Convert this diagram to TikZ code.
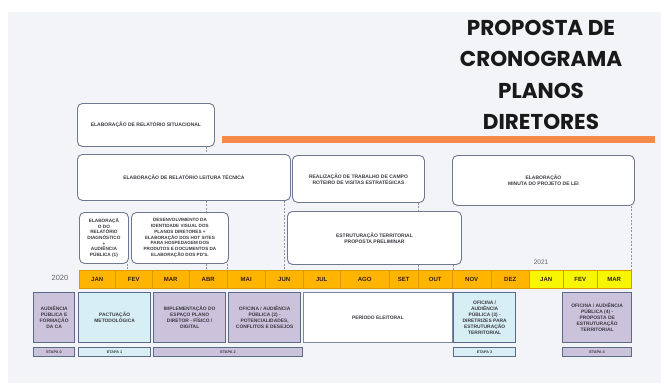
\documentclass[tikz,border=0pt]{standalone}
\usepackage{fontspec}
\setmainfont{Liberation Sans}
\newfontfamily\titulofont{Poppins}
\usetikzlibrary{positioning}

\definecolor{fundo}{HTML}{F3F4F7}
\definecolor{bordacaixa}{HTML}{6E7890}
\definecolor{laranja}{HTML}{FFB400}
\definecolor{amarelo}{HTML}{F7F500}
\definecolor{linhames}{HTML}{D99A00}
\definecolor{lilas}{HTML}{CBC3DC}
\definecolor{azulclaro}{HTML}{D8EEF5}
\definecolor{bordaetapa}{HTML}{5B6A88}
\definecolor{faixa}{HTML}{F78A48}
\definecolor{tracejado}{HTML}{8C94A4}
\definecolor{textocaixa}{HTML}{3A3A40}

\tikzset{
  caixa/.style={draw=bordacaixa, fill=white, rounded corners=5pt, line width=0.9pt,
    anchor=north west, align=center, inner sep=1pt, text=textocaixa,
    font=\fontsize{5}{6}\selectfont\bfseries},
  atividade/.style={draw=bordaetapa, fill=lilas, line width=1.3pt, anchor=north west,
    align=center, inner sep=1pt, minimum height=50pt, text=textocaixa,
    font=\fontsize{4.9}{6}\selectfont\bfseries},
  etapa/.style={draw=bordaetapa, fill=lilas, line width=1.1pt, anchor=north west,
    inner sep=0pt, minimum height=9pt, text=textocaixa,
    font=\fontsize{3.8}{4}\selectfont\bfseries},
  mes/.style={draw=linhames, line width=0.4pt, anchor=north west, inner sep=0pt,
    minimum height=18pt, text=black!75!brown, font=\fontsize{6}{7}\selectfont\bfseries},
  ano/.style={text=black!60, font=\fontsize{7}{8}\selectfont},
  titulo/.style={align=center, text=black!90, font=\titulofont\bfseries\fontsize{21.5}{31.5}\selectfont},
  marca/.style={draw=tracejado, line width=0.8pt, dash pattern=on 2pt off 1.5pt}
}

\begin{document}
\begin{tikzpicture}[x=1pt,y=-1pt]
  \useasboundingbox (0,0) rectangle (661,383);
  \fill[fundo] (8,12) rectangle (661,383);

  % titulo
  \node[titulo] (titulo) at (541,75) {PROPOSTA DE\\CRONOGRAMA\\PLANOS\\DIRETORES};
  \fill[faixa] (222,136) rectangle (655,143);

  % caixas superiores
  \node[caixa, minimum width=137pt, minimum height=43pt] (situacional) at (77,103)
    {ELABORAÇÃO DE RELATÓRIO SITUACIONAL};
  \node[caixa, minimum width=213pt, minimum height=46pt] (leitura) at (77,154)
    {ELABORAÇÃO DE RELATÓRIO LEITURA TÉCNICA};
  \node[caixa, minimum width=132pt, minimum height=47pt] (campo) at (292,155)
    {REALIZAÇÃO DE TRABALHO DE CAMPO\\ROTEIRO DE VISITAS ESTRATÉGICAS};
  \node[caixa, minimum width=182pt, minimum height=50pt] (minuta) at (452,155)
    {ELABORAÇÃO\\MINUTA DO PROJETO DE LEI};
  \node[caixa, minimum width=49pt, minimum height=51pt, font=\fontsize{4.7}{5.6}\selectfont\bfseries] (diagnostico) at (79,212)
    {ELABORAÇÃ\\O DO\\RELATÓRIO\\DIAGNÓSTICO\\+\\AUDIÊNCIA\\PÚBLICA (1)};
  \node[caixa, minimum width=97pt, minimum height=51pt, font=\fontsize{4.6}{5.7}\selectfont\bfseries] (identidade) at (131,212)
    {DESENVOLVIMENTO DA\\IDENTIDADE VISUAL DOS\\PLANOS DIRETORES +\\ELABORAÇÃO DOS HOT SITES\\PARA HOSPEDAGEM DOS\\PRODUTOS E DOCUMENTOS DA\\ELABORAÇÃO DOS PD'S.};
  \node[caixa, minimum width=174pt, minimum height=53pt] (estruturacao) at (287,211)
    {ESTRUTURAÇÃO TERRITORIAL\\PROPOSTA PRELIMINAR};

  % meses
  \foreach \a/\b/\m/\cor [count=\i] in {79/115/JAN/laranja, 115/152/FEV/laranja,
      152/189/MAR/laranja, 189/227/ABR/laranja, 227/265/MAI/laranja, 265/303/JUN/laranja,
      303/340/JUL/laranja, 340/389/AGO/laranja, 389/418/SET/laranja, 418/452/OUT/laranja,
      452/491/NOV/laranja, 491/529/DEZ/laranja, 529/563/JAN/amarelo, 563/597/FEV/amarelo,
      597/631/MAR/amarelo}{
    \pgfmathsetmacro\w{\b-\a}
    \node[mes, fill=\cor, minimum width=\w pt] (mes\i) at (\a,270) {\m};
  }
  \node[ano, font=\fontsize{7.5}{8}\selectfont] (ano2020) at (60,278) {2020};
  \node[ano, font=\fontsize{6.5}{7}\selectfont] (ano2021) at (541,262) {2021};

  % marcas tracejadas
  \draw[marca] (206,0 |- situacional.south) -- (206,0 |- leitura.north);
  \draw[marca] (206,0 |- leitura.south) -- (206,0 |- identidade.north);
  \draw[marca] (206,0 |- identidade.south) -- (206,0 |- mes4.north);
  \draw[marca] (227,0 |- identidade.south) -- (227,0 |- mes5.north);
  \draw[marca] (127,0 |- diagnostico.south) -- (127,0 |- mes2.north);
  \draw[marca] (284,0 |- leitura.south) -- (284,0 |- mes6.north);
  \draw[marca] (418,0 |- campo.south) -- (418,0 |- estruturacao.north);
  \draw[marca] (418,0 |- estruturacao.south) -- (418,0 |- mes10.north);
  \draw[marca] (453,0 |- estruturacao.south) -- (453,0 |- mes11.north);
  \draw[marca] (631,0 |- minuta.south) -- (631,0 |- mes15.north);

  % atividades
  \node[atividade, minimum width=41pt] (audiencia) at (33,292)
    {AUDIÊNCIA\\PÚBLICA E\\FORMAÇÃO\\DA CA};
  \node[atividade, minimum width=72pt, fill=azulclaro] (pactuacao) at (78,292)
    {PACTUAÇÃO\\METODOLÓGICA};
  \node[atividade, minimum width=72pt] (espaco) at (153,292)
    {IMPLEMENTAÇÃO DO\\ESPAÇO PLANO\\DIRETOR - FÍSICO /\\DIGITAL};
  \node[atividade, minimum width=72pt] (oficina2) at (228,292)
    {OFICINA / AUDIÊNCIA\\PÚBLICA (2) -\\POTENCIALIDADES,\\CONFLITOS E DESEJOS};
  \node[atividade, minimum width=149pt, fill=white, draw=bordaetapa!80, line width=0.9pt] (eleitoral) at (303,292)
    {PERÍODO ELEITORAL};
  \node[atividade, minimum width=62pt, fill=azulclaro] (oficina3) at (453,292)
    {OFICINA /\\AUDIÊNCIA\\PÚBLICA (3) -\\DIRETRIZES PARA\\ESTRUTURAÇÃO\\TERRITORIAL};
  \node[atividade, minimum width=69pt] (oficina4) at (562,292)
    {OFICINA / AUDIÊNCIA\\PÚBLICA (4) -\\PROPOSTA DE\\ESTRUTURAÇÃO\\TERRITORIAL};

  % etapas
  \node[etapa, minimum width=41pt] (etapa0) at ([yshift=-4pt]audiencia.south west) {ETAPA 0};
  \node[etapa, minimum width=72pt, fill=azulclaro] (etapa1) at ([yshift=-4pt]pactuacao.south west) {ETAPA 1};
  \node[etapa, minimum width=149pt] (etapa2) at ([yshift=-4pt]espaco.south west) {ETAPA 2};
  \node[etapa, minimum width=62pt, fill=azulclaro] (etapa3) at ([yshift=-4pt]oficina3.south west) {ETAPA 3};
  \node[etapa, minimum width=69pt] (etapa4) at ([yshift=-4pt]oficina4.south west) {ETAPA 4};
\end{tikzpicture}
\end{document}
